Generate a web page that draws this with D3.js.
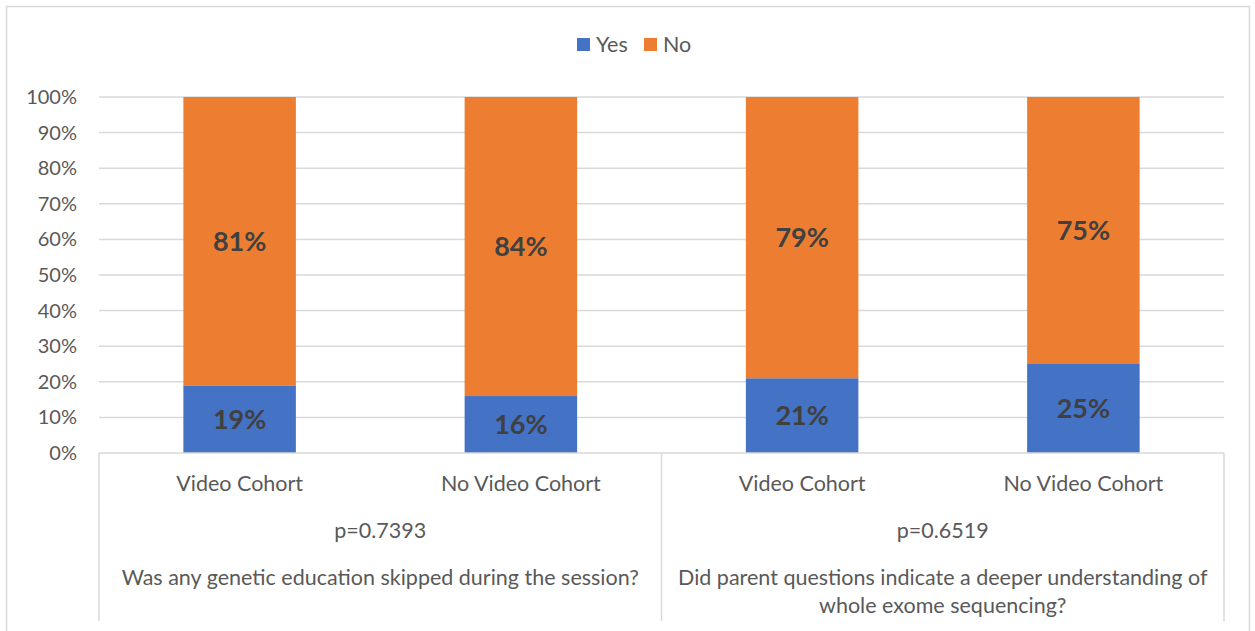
<!DOCTYPE html>
<meta charset="utf-8">
<title>Genetic education chart</title>
<body>
<script src="https://cdn.jsdelivr.net/npm/d3@7"></script>
<style>
html, body {
    margin: 0;
    background: #fff;
}
svg text {
    font-family: Lato, "Open Sans", sans-serif;
}
</style>
<script>
// data
var cohorts = ["Video Cohort", "No Video Cohort", "Video Cohort", "No Video Cohort"],
    yes = [19, 16, 21, 25],
    no = [81, 84, 79, 75],
    pValues = ["p=0.7393", "p=0.6519"],
    questions = [
        ["Was any genetic education skipped during the session?"],
        ["Did parent questions indicate a deeper understanding of", "whole exome sequencing?"]
    ],
    yTicks = [0, 10, 20, 30, 40, 50, 60, 70, 80, 90, 100];

var width = 1255,
    height = 631,
    plotLeft = 99,
    plotRight = 1224,
    plotTop = 97,
    plotBottom = 453;

var blue = "#4472c4",
    orange = "#ed7d31",
    grid = "#d9d9d9",
    textCol = "#595959",
    labelSize = "21.5px";

var svg = d3.select("body").append("svg")
    .attr("width", width)
    .attr("height", height)
    .style("display", "block");

// outer chart frame
svg.append("rect")
    .attr("x", 6.5).attr("y", 6.5)
    .attr("width", 1243).attr("height", 640)
    .attr("fill", "none")
    .attr("stroke", grid)
    .attr("stroke-width", 1.5);

var x = d3.scaleBand()
    .domain(d3.range(cohorts.length))
    .range([plotLeft, plotRight])
    .paddingInner(0.6)
    .paddingOuter(0.3);

var y = d3.scaleLinear()
    .domain([0, 100])
    .range([plotBottom, plotTop]);

// gridlines
svg.append("g").selectAll("line")
    .data(yTicks.slice(1))
    .join("line")
    .attr("x1", plotLeft).attr("x2", plotRight)
    .attr("y1", function(d) { return y(d); })
    .attr("y2", function(d) { return y(d); })
    .attr("stroke", grid)
    .attr("stroke-width", 1.5);

// y axis labels
var yAxis = svg.append("g")
    .attr("transform", "translate(" + (plotLeft - 22) + ",0)")
    .call(d3.axisLeft(y).tickValues(yTicks).tickFormat(function(d) { return d + "%"; }).tickSize(0).tickPadding(0));
yAxis.select(".domain").remove();
yAxis.selectAll("text")
    .attr("fill", textCol)
    .style("font-size", "20px");

// stacked bars
var stack = cohorts.map(function(c, i) {
    return [
        {i: i, y0: 0, y1: yes[i], v: yes[i], color: blue},
        {i: i, y0: yes[i], y1: yes[i] + no[i], v: no[i], color: orange}
    ];
});

var segs = svg.append("g").selectAll("g")
    .data(d3.merge(stack))
    .join("g");

segs.append("rect")
    .attr("x", function(d) { return x(d.i); })
    .attr("width", x.bandwidth())
    .attr("y", function(d) { return y(d.y1); })
    .attr("height", function(d) { return y(d.y0) - y(d.y1); })
    .attr("fill", function(d) { return d.color; });

segs.append("text")
    .attr("x", function(d) { return x(d.i) + x.bandwidth() / 2; })
    .attr("y", function(d) { return y((d.y0 + d.y1) / 2); })
    .attr("dy", "0.35em")
    .attr("text-anchor", "middle")
    .attr("fill", "#404040")
    .style("font-size", "27px")
    .style("font-weight", "bold")
    .text(function(d) { return d.v + "%"; });

// x axis line and group separators
svg.append("line")
    .attr("x1", plotLeft).attr("x2", plotRight)
    .attr("y1", plotBottom).attr("y2", plotBottom)
    .attr("stroke", grid).attr("stroke-width", 1.5);

var mid = (plotLeft + plotRight) / 2;
svg.append("g").selectAll("line")
    .data([plotLeft, mid, plotRight])
    .join("line")
    .attr("x1", function(d) { return d; }).attr("x2", function(d) { return d; })
    .attr("y1", plotBottom).attr("y2", 621)
    .attr("stroke", grid).attr("stroke-width", 1.5);

// category labels
svg.append("g").selectAll("text")
    .data(cohorts)
    .join("text")
    .attr("x", function(d, i) { return x(i) + x.bandwidth() / 2; })
    .attr("y", 491)
    .attr("text-anchor", "middle")
    .attr("fill", textCol)
    .style("font-size", labelSize)
    .text(function(d) { return d; });

// group labels
var groupX = d3.scaleBand().domain([0, 1]).range([plotLeft, plotRight]);

svg.append("g").selectAll("text")
    .data(pValues)
    .join("text")
    .attr("x", function(d, i) { return groupX(i) + groupX.bandwidth() / 2; })
    .attr("y", 538)
    .attr("text-anchor", "middle")
    .attr("fill", textCol)
    .style("font-size", labelSize)
    .text(function(d) { return d; });

svg.append("g").selectAll("text")
    .data(questions)
    .join("text")
    .attr("x", function(d, i) { return groupX(i) + groupX.bandwidth() / 2; })
    .attr("y", 585)
    .attr("text-anchor", "middle")
    .attr("fill", textCol)
    .style("font-size", labelSize)
    .selectAll("tspan")
    .data(function(d) { return d; })
    .join("tspan")
    .attr("x", function() { return this.parentNode.getAttribute("x"); })
    .attr("dy", function(d, i) { return i ? 28 : 0; })
    .text(function(d) { return d; });

// legend
var legend = svg.append("g");
var items = [{name: "Yes", color: blue, x: 577}, {name: "No", color: orange, x: 644}];
items.forEach(function(d) {
    legend.append("rect")
        .attr("x", d.x).attr("y", 38)
        .attr("width", 13).attr("height", 13)
        .attr("fill", d.color);
    legend.append("text")
        .attr("x", d.x + 19).attr("y", 52)
        .attr("fill", textCol)
        .style("font-size", labelSize)
        .text(d.name);
});
</script>
